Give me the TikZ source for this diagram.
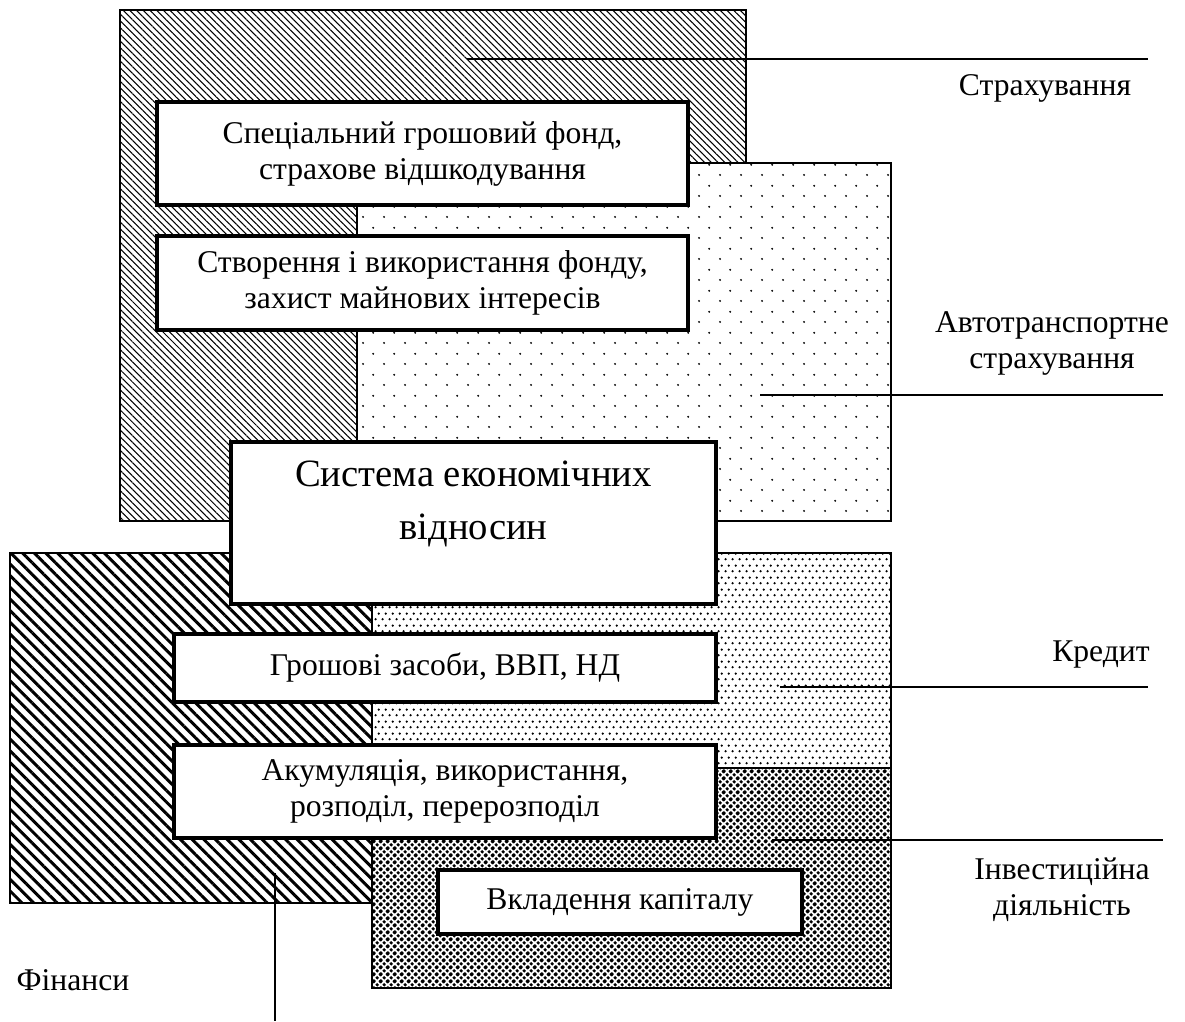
\documentclass[tikz,border=0pt]{standalone}
\usepackage{fontspec}
\setmainfont{Liberation Serif}
\usetikzlibrary{patterns,patterns.meta}

\newcommand\boxfont{\fontsize{18}{20.5}\selectfont}
\newcommand\sysfont{\fontsize{22}{30}\selectfont}

\tikzdeclarepattern{
  name=sparsedots,
  tile size={(12pt,12pt)},
  bounding box={(0pt,0pt) and (12pt,12pt)},
  code={
    \fill (3pt,3pt) circle (0.65pt);
    \fill (9pt,9pt) circle (0.65pt);
  }
}
\tikzdeclarepattern{
  name=densedots,
  tile size={(3.8pt,6.6pt)},
  bounding box={(0pt,0pt) and (3.8pt,6.6pt)},
  code={
    \fill (0.95pt,1.65pt) circle (0.72pt);
    \fill (2.85pt,4.95pt) circle (0.72pt);
  }
}
\tikzdeclarepattern{
  name=crossdots,
  tile size={(3.8pt,3.8pt)},
  bounding box={(0pt,0pt) and (3.8pt,3.8pt)},
  code={
    \foreach \dx/\dy in {0/0,3.8/0,0/3.8,3.8/3.8,1.9/1.9}
      \fill (\dx pt,\dy pt) circle (1.08pt);
  }
}

\tikzset{
  area/.style={draw, line width=0.8pt, preaction={fill=white}},
  whitebox/.style={draw, fill=white, line width=2.2pt, align=center, font=\boxfont, inner sep=0pt},
  boxsize/.style 2 args={minimum width=#1*0.02cm, minimum height=#2*0.02cm},
  leader/.style={line width=1pt},
  caption/.style={align=center, font=\boxfont}
}

\begin{document}
\begin{tikzpicture}[x=0.02cm, y=-0.02cm]
\useasboundingbox (0,0) rectangle (1185,1021);
\draw[area, pattern={Lines[angle=-45, distance=2.7pt, line width=0.6pt]}] (120,10) rectangle (746,521);
\draw[area, pattern=sparsedots] (357,163) rectangle (891,521);
\draw[area, pattern={Lines[angle=-45, distance=4.7pt, line width=1.7pt]}] (10,553) rectangle (372,903);
\draw[area, pattern=densedots] (372,553) rectangle (891,768);
\draw[area, pattern=crossdots] (372,768) rectangle (891,988);

\coordinate (strakhA) at (467,59);
\coordinate (strakhB) at (1148,59);
\coordinate (autoA) at (760,395);
\coordinate (autoB) at (1163,395);
\coordinate (kredA) at (780,687);
\coordinate (kredB) at (1148,687);
\coordinate (investA) at (772,840);
\coordinate (investB) at (1163,840);
\coordinate (finA) at (275,873);
\coordinate (finB) at (275,1021);
\draw[leader] (strakhA) -- (strakhB);
\draw[leader] (autoA) -- (autoB);
\draw[leader] (kredA) -- (kredB);
\draw[leader] (investA) -- (investB);
\draw[leader] (finA) -- (finB);

\node[caption] (strakh) at (1045,88) {Страхування};
\node[caption] (auto) at (1052,343) {Автотранспортне\\страхування};
\node[caption] (kred) at (1101,655) {Кредит};
\node[caption] (invest) at (1062,890) {Інвестиційна\\діяльність};
\node[caption] (fin) at (73,980) {Фінанси};

\node[whitebox, boxsize={531}{103}] (fond) at (422.5,153.5) {Спеціальний грошовий фонд,\\страхове відшкодування};
\node[whitebox, boxsize={531}{94}] (zakhyst) at (422.5,283) {Створення і використання фонду,\\захист майнових інтересів};
\node[whitebox, boxsize={485}{162}] (sys) at (473.5,523) {};
\node[font=\sysfont, align=center] (systext) at (473.5,504) {Система економічних\\відносин};
\node[whitebox, boxsize={542}{68}] (koshty) at (445,668) {Грошові засоби, ВВП, НД};
\node[whitebox, boxsize={542}{93}] (akum) at (445,791.5) {Акумуляція, використання,\\розподіл, перерозподіл};
\node[whitebox, boxsize={364}{64}] (kapital) at (620,902) {Вкладення капіталу};
\end{tikzpicture}
\end{document}
